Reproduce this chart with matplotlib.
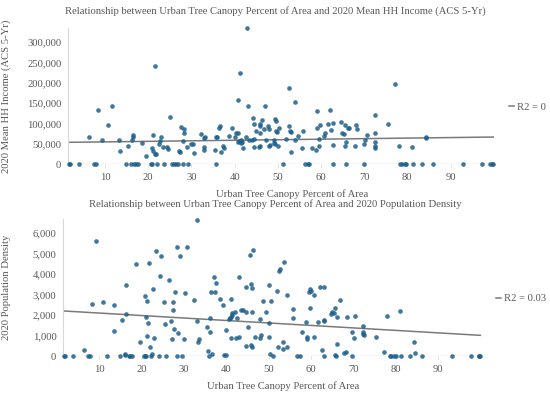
import matplotlib
matplotlib.use("Agg")
import matplotlib.pyplot as plt
import numpy as np

plt.rcParams['font.family'] = ['Liberation Serif', 'DejaVu Serif']

# canopy % vs mean HH income (income in thousands)
income_x = [1.65, 1.8, 3.9, 6.3, 7.5, 7.8, 8.3, 9.2, 10.8, 11.7, 13.3, 13.5, 14.8, 15.3, 16.0, 16.3, 16.4, 16.5,
            16.6, 17.1, 17.6, 18.6, 19.6, 20.6, 20.9, 20.8, 21.2, 21.6, 21.2, 21.6, 21.9, 22.1, 22.6, 22.7, 23.0,
            23.7, 23.5, 24.3, 24.5, 25.1, 25.5, 25.9, 26.4, 26.8, 27.2, 27.4, 27.6, 28.0, 28.1, 28.4, 28.4, 29.0,
            29.3, 30.0, 30.3, 30.5, 32.3, 32.9, 32.9, 33.0, 33.1, 35.4, 35.6, 35.8, 36.0, 36.3, 36.7, 36.8, 37.3,
            37.5, 38.6, 39.4, 40.0, 40.3, 40.8, 40.8, 40.9, 41.1, 41.4, 41.6, 41.8, 41.2, 42.0, 42.7, 42.8, 43.1,
            43.4, 44.2, 44.6, 44.6, 45.0, 45.7, 45.9, 46.0, 46.3, 45.9, 47.0, 47.3, 47.7, 48.0, 48.3, 49.2, 49.4,
            49.6, 49.5, 49.9, 49.4, 50.0, 50.3, 51.1, 52.0, 52.5, 52.7, 52.8, 53.1, 53.1, 54.0, 54.1, 54.8, 55.5,
            55.8, 56.4, 57.0, 57.3, 57.9, 58.9, 59.1, 59.1, 59.5, 59.6, 59.8, 60.7, 61.0, 61.7, 62.0, 62.4, 62.8,
            62.9, 62.8, 64.7, 64.9, 65.3, 65.5, 65.5, 65.9, 65.9, 66.2, 66.5, 67.9, 68.1, 68.4, 69.9, 69.9, 70.3,
            70.6, 72.4, 72.4, 72.5, 72.5, 72.5, 75.5, 77.2, 78.1, 78.4, 78.7, 79.5, 79.8, 81.0, 81.3, 83.3, 84.3,
            84.4, 86.0, 93.0, 97.3, 99.2, 99.6, 99.9, 44.0, 44.5, 48.0, 45.8, 46.9, 49.1]
income_k = [0, 0, 0, 66, 0, 0, 134, 60, 97, 143, 60, 33, 0, 45, 0, 60, 72, 68,
            0, 0, 0, 52, 21, 0, 0, 40, 71, 241, 33, 25, 25, 0, 49, 57, 67,
            0, 42, 43, 38, 117, 0, 0, 0, 0, 33, 31, 91, 57, 0, 86, 78, 43,
            0, 50, 49, 27, 75, 65, 42, 35, 68, 36, 67, 0, 66, 88, 93, 30, 45,
            39, 69, 88, 68, 77, 78, 157, 55, 58, 52, 60, 55, 224, 40, 66, 334, 143,
            59, 113, 98, 42, 83, 42, 93, 100, 110, 76, 143, 59, 93, 87, 47, 52, 112,
            107, 83, 79, 49, 45, 90, 0, 61, 187, 94, 82, 80, 30, 154, 59, 69, 40,
            83, 0, 0, 0, 39, 34, 132, 88, 46, 62, 97, 69, 78, 98, 133, 85, 101,
            47, 0, 103, 77, 75, 97, 46, 55, 0, 88, 90, 46, 97, 87, 49, 0, 59,
            71, 40, 45, 121, 55, 78, 100, 198, 44, 0, 0, 0, 0, 42, 0, 0, 67,
            65, 0, 0, 0, 0, 0, 0, 60, 61, 45, 45, 86, 59]

# canopy % vs population density
density_x = [1.6, 1.8, 3.9, 6.5, 7.4, 7.7, 8.3, 9.3, 10.9, 11.7, 13.4, 13.4, 14.8, 15.4, 16.0, 16.1, 16.2, 16.4,
             16.9, 17.3, 17.8, 18.7, 19.7, 20.5, 20.8, 21.0, 20.8, 21.0, 21.2, 21.2, 21.6, 21.7, 22.0, 22.2, 22.5,
             22.7, 23.0, 23.4, 24.0, 24.4, 24.5, 25.2, 25.6, 25.8, 26.5, 26.8, 27.1, 27.3, 27.5, 27.6, 27.8, 28.3,
             28.3, 28.5, 29.1, 29.4, 30.0, 30.1, 30.6, 32.4, 33.0, 33.0, 33.2, 33.5, 35.4, 35.6, 35.9, 36.0, 36.2,
             36.3, 36.7, 37.0, 37.4, 37.6, 38.5, 39.3, 39.5, 40.0, 40.0, 40.6, 40.8, 41.0, 41.2, 41.4, 41.1, 41.1,
             41.9, 42.2, 42.4, 42.9, 42.9, 43.4, 44.0, 44.6, 44.6, 44.6, 45.2, 45.6, 45.7, 45.8, 46.0, 46.0, 46.0,
             46.3, 46.8, 47.8, 48.0, 48.2, 48.7, 49.4, 50.0, 50.0, 50.0, 50.3, 50.4, 51.0, 52.0, 52.3, 52.7, 53.5,
             54.3, 52.2, 53.3, 54.3, 53.3, 55.6, 55.8, 56.7, 57.4, 57.9, 58.7, 59.0, 59.1, 59.5, 59.7, 59.9, 59.7,
             60.6, 60.7, 61.7, 62.1, 62.9, 62.5, 63.0, 63.1, 63.0, 64.7, 64.9, 65.3, 65.7, 65.5, 65.9, 66.1, 66.2,
             66.7, 67.8, 68.2, 68.5, 69.7, 69.7, 70.1, 70.4, 72.3, 72.3, 72.3, 72.4, 75.3, 77.1, 78.0, 78.5, 78.8,
             79.6, 79.9, 81.0, 81.2, 83.3, 84.3, 84.4, 86.1, 93.2, 97.6, 99.5, 99.7, 99.9]
density = [0, 0, 0, 280, 0, 0, 2540, 5640, 2620, 0, 2510, 1210, 0, 1780, 50, 100, 3470, 2050,
           0, 0, 0, 4510, 680, 0, 0, 0, 2950, 1910, 2680, 980, 1630, 4560, 460, 0, 100,
           3260, 880, 5150, 0, 3910, 4870, 2640, 1560, 0, 3710, 1690, 850, 2230, 2640, 1340, 3150, 5330,
           0, 1100, 4890, 0, 850, 3080, 5330, 2760, 6650, 1690, 700, 850, 1420, 230, 0, 1190, 1870,
           3130, 80, 3850, 3130, 3590, 2770, 2500, 50, 30, 1270, 1800, 1870, 1930, 2000, 2080, 2770, 880,
           2150, 860, 1870, 3880, 950, 2250, 2250, 2150, 3370, 510, 1420, 4930, 3530, 560, 430, 3330, 2170,
           5160, 950, 1800, 860, 1030, 2690, 2140, 3470, 1630, 910, 100, 2690, 0, 3160, 4140, 4270, 4580,
           3000, 420, 680, 440, 350, 2280, 1870, 0, 0, 1190, 1640, 940, 850, 3130, 3260, 3200, 2350,
           2980, 950, 1670, 3360, 3360, 300, 1740, 1710, 0, 2050, 2150, 2080, 2360, 50, 0, 570, 1890,
           2720, 130, 210, 1890, 1190, 0, 900, 1940, 1470, 1190, 1080, 1040, 920, 190, 1940, 0, 0,
           0, 0, 2200, 0, 0, 700, 160, 0, 0, 0, 0, 0, 0]

# trend lines (start, end)
trend_x = [1.6, 99.9]
income_trend_k = [54, 67]
density_trend = [2200, 1010]

titles = ['Relationship between Urban Tree Canopy Percent of Area and 2020 Mean HH Income (ACS 5-Yr)',
          'Relationship between Urban Tree Canopy Percent of Area and 2020 Population Density']
ylabels = ['2020 Mean HH Income (ACS 5-Yr)', '2020 Population Density']
r2_labels = ['R2 = 0', 'R2 = 0.03']

text_c = '#595959'
dot_c = '#1d5f8c'
line_c = '#7a7a7a'
grid_c = '#d9d9d9'

fig = plt.figure(figsize=(5.5, 3.96), dpi=100)
ax1 = fig.add_axes([68.3 / 550, 1 - 164.3 / 396, 426.7 / 550, 136.3 / 396])
ax2 = fig.add_axes([63.3 / 550, 1 - 356 / 396, 418.7 / 550, 136.7 / 396])

ax1.scatter(income_x, np.array(income_k) * 1000, s=11, color=dot_c, alpha=0.85, linewidths=0,
            zorder=3, clip_on=False)
ax1.plot(trend_x, np.array(income_trend_k) * 1000, color=line_c, lw=1.1, label=r2_labels[0], zorder=2)
ax1.set_ylim(0, 335000)
ax1.set_yticks(np.arange(0, 300001, 50000))
ax1.yaxis.set_major_formatter(matplotlib.ticker.FuncFormatter(lambda v, p: f'{int(v):,}'))

ax2.scatter(density_x, density, s=11, color=dot_c, alpha=0.85, linewidths=0, zorder=3, clip_on=False)
ax2.plot(trend_x, density_trend, color=line_c, lw=1.1, label=r2_labels[1], zorder=2)
ax2.set_ylim(0, 6680)
ax2.set_yticks(np.arange(0, 6001, 1000))
ax2.yaxis.set_major_formatter(matplotlib.ticker.FuncFormatter(lambda v, p: f'{int(v):,}'))

for ax, ylab, lx in [(ax1, ylabels[0], -0.134), (ax2, ylabels[1], -0.125)]:
    ax.set_xlim(1.5, 100.3)
    ax.set_xticks(range(10, 100, 10))
    for s in ['top', 'right', 'bottom']:
        ax.spines[s].set_visible(False)
    ax.spines['left'].set_color(grid_c)
    ax.spines['left'].set_linewidth(0.8)
    ax.axhline(0, color=grid_c, lw=1.0, zorder=1)
    ax.tick_params(axis='y', length=0, pad=5, labelsize=7.7, labelcolor=text_c)
    ax.tick_params(axis='x', length=2.5, width=0.6, color=grid_c, pad=4, labelsize=7.7, labelcolor=text_c)
    ax.set_xlabel('Urban Tree Canopy Percent of Area', fontsize=7.7, color=text_c)
    ax.xaxis.set_label_coords(0.525, -0.182)
    ax.set_ylabel(ylab, fontsize=7.7, color=text_c)
    ax.yaxis.set_label_coords(lx, 0.5)
    ax.legend(loc='center left', bbox_to_anchor=(1.02, 0.42), frameon=False, fontsize=7.7,
              handlelength=0.5, handletextpad=0.3, borderpad=0, labelcolor=text_c)

fig.text(0.5, 1 - 11 / 396, titles[0], ha='center', va='center', fontsize=7.7, color=text_c)
fig.text(0.5, 1 - 204.5 / 396, titles[1], ha='center', va='center', fontsize=7.7, color=text_c)

fig.savefig('out.png', dpi=100)
